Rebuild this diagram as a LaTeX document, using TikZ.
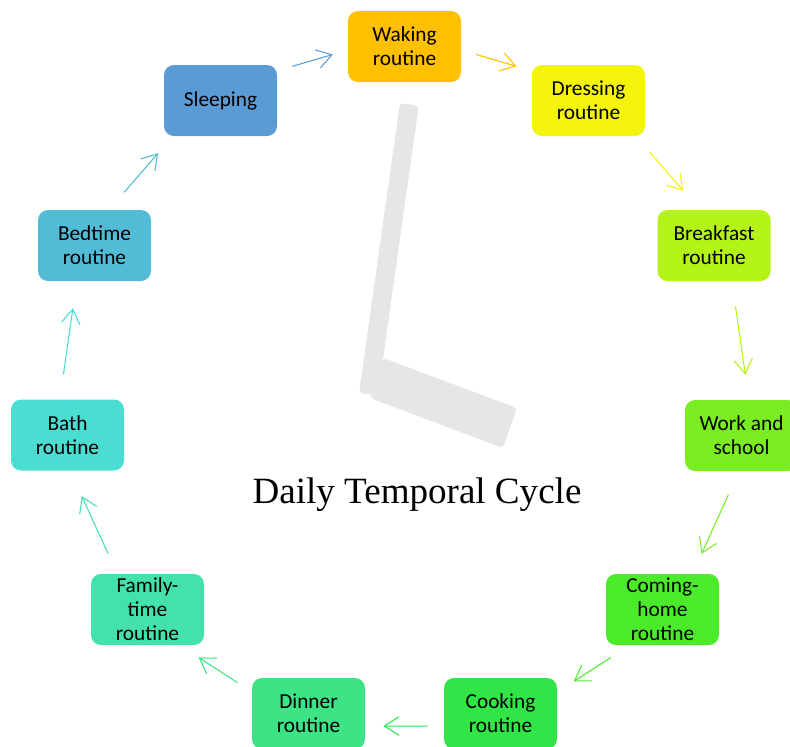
\documentclass[tikz,border=0pt]{standalone}
\usepackage{fontspec}
\setmainfont{Carlito}
\newfontfamily\titlefont{Liberation Serif}
\usetikzlibrary{arrows.meta,calc}

% stage colours, clockwise from the top
\definecolor{cWake}{HTML}{FFC000}
\definecolor{cDress}{HTML}{F3F30C}
\definecolor{cBfast}{HTML}{B3F318}
\definecolor{cWork}{HTML}{7AED22}
\definecolor{cCome}{HTML}{4BEB2C}
\definecolor{cCook}{HTML}{31E548}
\definecolor{cDinner}{HTML}{3DE385}
\definecolor{cFamily}{HTML}{43E2AA}
\definecolor{cBath}{HTML}{4ADDD2}
\definecolor{cBed}{HTML}{52BCD7}
\definecolor{cSleep}{HTML}{5B9BD5}
\definecolor{handgray}{HTML}{E6E6E6}

\tikzset{
  stage/.style={fill=#1, draw=none, rounded corners=7.5pt,
    minimum width=84.75pt, minimum height=53.25pt, inner sep=0pt,
    align=center, text=black, font=\fontsize{16}{18}\selectfont},
  flow/.style={draw=#1, line width=0.8pt,
    -{Straight Barb[length=11pt,width=14pt]}},
  hand/.style={fill=handgray, draw=none, rounded corners=3pt}
}

% arrow between two stages, set out from their chord onto the ring
\newcommand\cyclearrow[5]{%
  \draw[flow=#5] ($(#1)!#3!(#2)!9.4pt!90:(#2)$) -- ($(#1)!#4!(#2)!9.4pt!90:(#2)$);}

\begin{document}
\begin{tikzpicture}[x=0.75pt,y=-0.75pt]
\useasboundingbox (0,0) rectangle (790,747);

% clock hands
\fill[hand] (383,358) -- (517,408) -- (503,448) -- (370,398) -- cycle;
\fill[hand] (400,103) -- (418.8,105.7) -- (377.8,395.7) -- (359,393) -- cycle;

% title
\node[font=\titlefont\fontsize{27.8}{30}\selectfont, anchor=base] (title)
  at (417,503) {Daily Temporal Cycle};

% stages
\node[stage=cWake]   (wake)   at (404.5,46.5)  {Waking\\routine};
\node[stage=cDress]  (dress)  at (588.5,100.5) {Dressing\\routine};
\node[stage=cBfast]  (bfast)  at (714,245.5)   {Breakfast\\routine};
\node[stage=cWork]   (work)   at (741.5,435.5) {Work and\\school};
\node[stage=cCome]   (come)   at (662.5,609.5) {Coming-\\home\\routine};
\node[stage=cCook]   (cook)   at (500.5,713.5) {Cooking\\routine};
\node[stage=cDinner] (dinner) at (308.5,713.5) {Dinner\\routine};
\node[stage=cFamily] (family) at (147.5,609.5) {Family-\\time\\routine};
\node[stage=cBath]   (bath)   at (67.5,435)    {Bath\\routine};
\node[stage=cBed]    (bed)    at (94.5,245.5)  {Bedtime\\routine};
\node[stage=cSleep]  (sleep)  at (220.5,100.5) {Sleeping};

% cycle arrows
\cyclearrow{sleep}{wake}{0.41}{0.63}{cSleep}
\cyclearrow{wake}{dress}{0.37}{0.59}{cWake}
\cyclearrow{dress}{bfast}{0.41}{0.68}{cDress}
\cyclearrow{bfast}{work}{0.33}{0.69}{cBfast}
\cyclearrow{work}{come}{0.31}{0.65}{cWork}
\cyclearrow{come}{cook}{0.36}{0.59}{cCome}
\cyclearrow{cook}{dinner}{0.38}{0.61}{cCook}
\cyclearrow{dinner}{family}{0.40}{0.64}{cDinner}
\cyclearrow{family}{bath}{0.35}{0.68}{cFamily}
\cyclearrow{bath}{bed}{0.31}{0.66}{cBath}
\cyclearrow{bed}{sleep}{0.31}{0.58}{cBed}
\end{tikzpicture}
\end{document}
